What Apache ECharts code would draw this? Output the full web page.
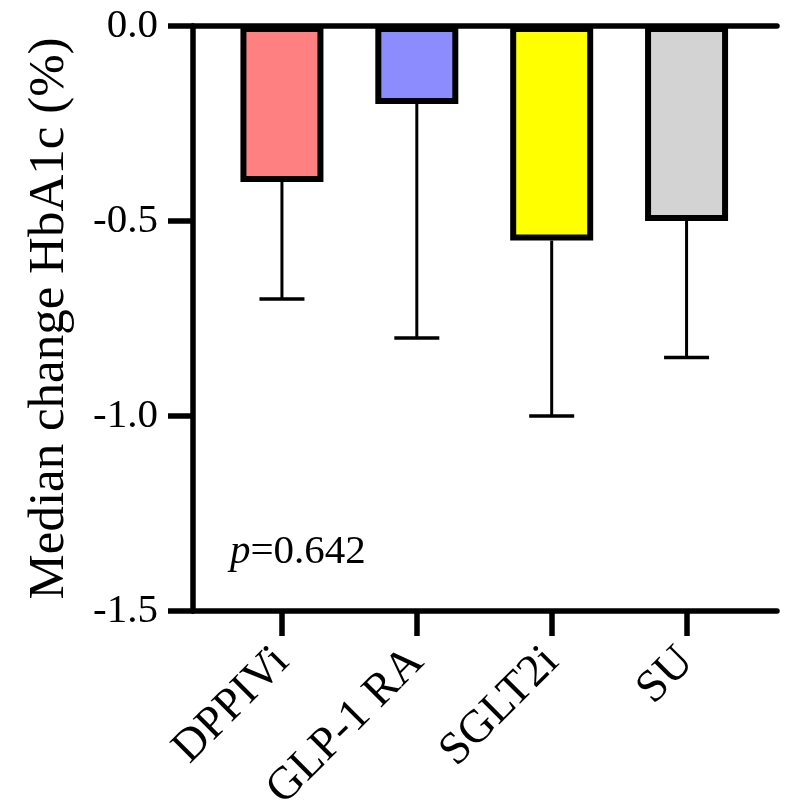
<!DOCTYPE html>
<html>
<head>
<meta charset="utf-8">
<script src="https://cdn.jsdelivr.net/npm/echarts@6/dist/echarts.min.js"></script>
<style>html,body{margin:0;padding:0;background:#fff}#c{width:793px;height:810px}</style>
</head>
<body>
<div id="c"></div>
<script>
const categories = ['DPPIVi', 'GLP-1 RA', 'SGLT2i', 'SU'];
const medians = [-0.40, -0.20, -0.55, -0.50];
const lowerErr = [-0.70, -0.80, -1.00, -0.85];
const barColors = ['#FF8080', '#8C8CFF', '#FFFF00', '#D3D3D3'];
const yTicks = [0, -0.5, -1.0, -1.5];
const yTitle = 'Median change HbA1c (%)';
const pText = '0.642';

const FONT = 'Liberation Serif';
const chart = echarts.init(document.getElementById('c'), null, {renderer: 'canvas'});

const option = {
  backgroundColor: '#fff',
  animation: false,
  title: {
    left: 225, top: 527,
    text: '{i|p}=' + pText,
    textStyle: {
      fontFamily: FONT, fontSize: 41, fontWeight: 'normal', color: '#000',
      rich: {i: {fontFamily: FONT, fontSize: 41, fontStyle: 'italic', color: '#000'}}
    }
  },
  grid: [
    {left: 193, right: 16, top: 26, bottom: 199, containLabel: false, outerBoundsMode: 'none'},
    {left: 214.5, right: 39, top: 26, bottom: 199, containLabel: false, outerBoundsMode: 'none'}
  ],
  xAxis: [
    {gridIndex: 0, type: 'value', min: 0, max: 1, position: 'bottom',
     axisLine: {show: true, onZero: false, lineStyle: {color: '#000', width: 5.5}},
     axisTick: {show: false}, axisLabel: {show: false}, splitLine: {show: false}},
    {gridIndex: 0, type: 'value', min: 0, max: 1, position: 'top',
     axisLine: {show: true, onZero: false, lineStyle: {color: '#000', width: 5.5}},
     axisTick: {show: false}, axisLabel: {show: false}, splitLine: {show: false}},
    {gridIndex: 1, type: 'category', data: categories, position: 'bottom',
     boundaryGap: true,
     axisLine: {show: false, onZero: false},
     axisTick: {show: true, alignWithLabel: true, length: 25, lineStyle: {color: '#000', width: 5.5}},
     axisLabel: {show: true, rotate: 45, margin: 44, interval: 0,
       fontFamily: FONT, fontSize: 46, color: '#000'},
     splitLine: {show: false}}
  ],
  yAxis: [
    {gridIndex: 0, type: 'value', min: -1.5, max: 0, interval: 0.5,
     name: yTitle, nameLocation: 'middle', nameRotate: 90, nameGap: 118,
     nameTextStyle: {fontFamily: FONT, fontSize: 51, color: '#000'},
     axisLine: {show: true, onZero: false, lineStyle: {color: '#000', width: 5.5}},
     axisTick: {show: true, length: 25, lineStyle: {color: '#000', width: 5.5}},
     axisLabel: {show: true, margin: 35, fontFamily: FONT, fontSize: 41, color: '#000',
       formatter: v => (yTicks.indexOf(v) >= 0 ? v.toFixed(1) : '')},
     splitLine: {show: false}},
    {gridIndex: 1, type: 'value', min: -1.5, max: 0, show: false}
  ],
  series: [
    {
      type: 'custom', xAxisIndex: 2, yAxisIndex: 1, z: 1,
      data: categories.map((c, i) => [i, medians[i], lowerErr[i]]),
      renderItem: function (params, api) {
        const i = api.value(0);
        const p0 = api.coord([i, api.value(1)]);
        const p1 = api.coord([i, api.value(2)]);
        const hw = 22.5;
        return {type: 'group', children: [
          {type: 'line', shape: {x1: p0[0], y1: p0[1], x2: p1[0], y2: p1[1]}, style: {stroke: '#000', lineWidth: 3}},
          {type: 'line', shape: {x1: p1[0] - hw, y1: p1[1], x2: p1[0] + hw, y2: p1[1]}, style: {stroke: '#000', lineWidth: 3.5}}
        ]};
      }
    },
    {
      type: 'bar', xAxisIndex: 2, yAxisIndex: 1, z: 2,
      barWidth: 83,
      data: medians.map((v, i) => ({value: v, itemStyle: {color: barColors[i], borderColor: '#000', borderWidth: 6}}))
    }
  ]
};
chart.setOption(option);
</script>
</body>
</html>
